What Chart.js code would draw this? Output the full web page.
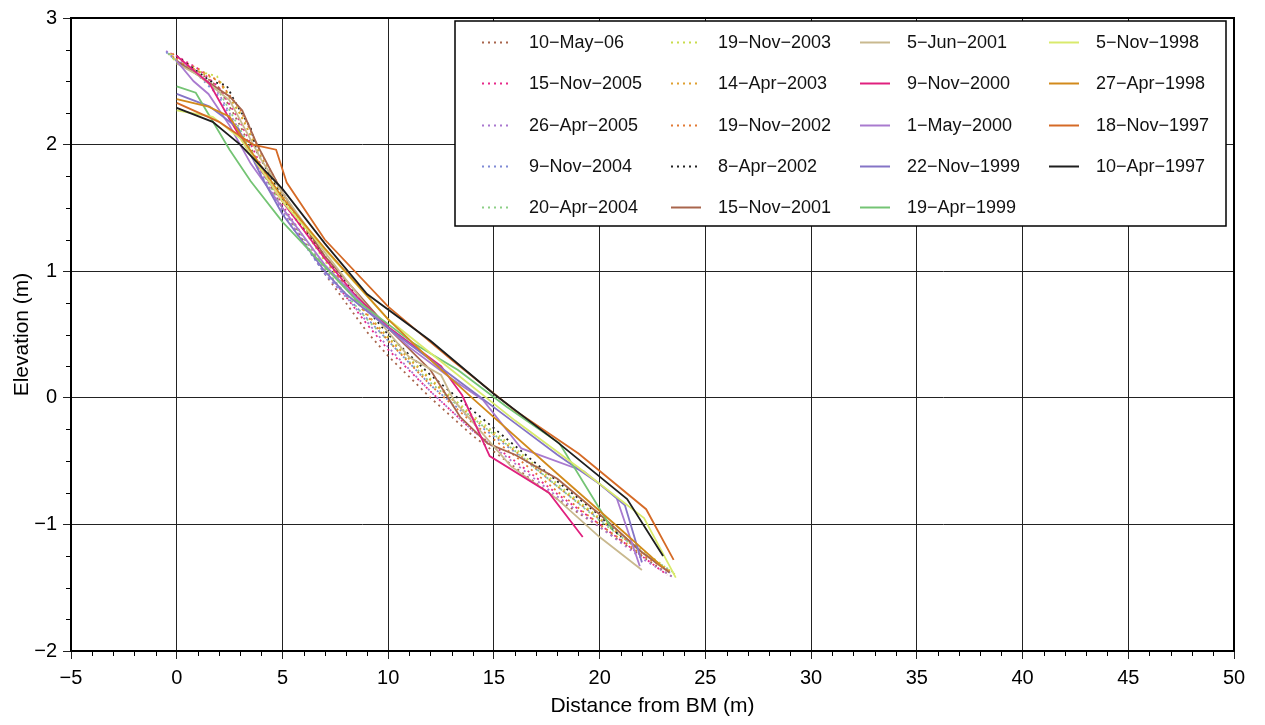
<!DOCTYPE html>
<html>
<head>
<meta charset="utf-8">
<script src="https://cdn.jsdelivr.net/npm/chart.js@4.4.0/dist/chart.umd.min.js"></script>
<style>
html, body { margin: 0; padding: 0; background: #fff; }
#wrap { width: 1265px; height: 725px; }
</style>
</head>
<body>
<div id="wrap"><canvas id="mycanvas" width="1265" height="725"></canvas></div>
<script>
// survey dates (legend order) and colours
var dates = ['10\u2212May\u221206', '15\u2212Nov\u22122005', '26\u2212Apr\u22122005', '9\u2212Nov\u22122004', '20\u2212Apr\u22122004',
             '19\u2212Nov\u22122003', '14\u2212Apr\u22122003', '19\u2212Nov\u22122002', '8\u2212Apr\u22122002', '15\u2212Nov\u22122001',
             '5\u2212Jun\u22122001', '9\u2212Nov\u22122000', '1\u2212May\u22122000', '22\u2212Nov\u22121999', '19\u2212Apr\u22121999',
             '5\u2212Nov\u22121998', '27\u2212Apr\u22121998', '18\u2212Nov\u22121997', '10\u2212Apr\u22121997'];
var colors = ['#a8654c', '#e7298a', '#a977cf', '#7f8ad6', '#8ccf86',
              '#c9dc4c', '#e0a030', '#e27a34', '#222222', '#a8654c',
              '#c9b98f', '#e0207e', '#a97acf', '#8574c6', '#74c474',
              '#d9ea6c', '#d28a1c', '#d56a26', '#1e1e1e'];
var dotted = [true, true, true, true, true, true, true, true, true, false,
              false, false, false, false, false, false, false, false, false];

// profiles: [distance from BM (m), elevation (m)]
var p10May06 = [[-0.4,2.72],[0,2.66],[1,2.58],[2,2.45],[3,2.15],[4,1.8],[5,1.5],[7,0.98],[9,0.52],[10,0.33],[12,0.0],[14,-0.3],[16,-0.55],[18,-0.8],[20,-1.02],[22,-1.25],[23.4,-1.41]];
var p15Nov05 = [[-0.3,2.72],[0,2.7],[1,2.6],[2,2.45],[3,2.18],[4,1.83],[5,1.52],[7,1.02],[9,0.58],[10,0.38],[12,0.05],[14,-0.26],[16,-0.5],[18,-0.76],[20,-1.0],[22,-1.25],[23.2,-1.4]];
var p26Apr05 = [[-0.5,2.74],[0,2.67],[1,2.56],[2,2.4],[3,2.1],[4,1.78],[5,1.48],[7,0.98],[8.2,0.76],[10,0.4],[12,0.05],[14,-0.26],[16,-0.52],[18,-0.78],[20,-1.02],[22,-1.27],[23.5,-1.42]];
var p9Nov04 = [[-0.5,2.73],[0,2.66],[1,2.55],[2,2.38],[3,2.08],[4,1.76],[5,1.46],[7,0.98],[8.2,0.77],[10,0.45],[12,0.1],[14,-0.18],[16,-0.43],[18,-0.7],[20,-0.96],[22,-1.22],[23.4,-1.39]];
var p20Apr04 = [[-0.4,2.72],[0,2.65],[1,2.55],[2,2.42],[3,2.12],[4,1.8],[5,1.5],[7,1.02],[9,0.62],[10,0.45],[12,0.12],[14,-0.16],[16,-0.42],[18,-0.7],[20,-0.97],[22,-1.22],[23.5,-1.38]];
var p19Nov03 = [[-0.3,2.72],[0,2.64],[1,2.58],[1.9,2.54],[3,2.25],[4,1.9],[5,1.58],[7,1.08],[9,0.66],[10,0.48],[12,0.15],[14,-0.14],[16,-0.4],[18,-0.68],[20,-0.95],[22,-1.2],[23.6,-1.4]];
var p14Apr03 = [[-0.2,2.7],[0,2.66],[0.9,2.59],[2,2.5],[3,2.24],[4,1.9],[5,1.6],[7,1.1],[9,0.66],[10,0.47],[12,0.14],[14,-0.16],[16,-0.42],[18,-0.7],[20,-0.96],[22,-1.22],[23.4,-1.38]];
var p19Nov02 = [[-0.2,2.72],[0,2.68],[1,2.6],[2,2.5],[3,2.28],[4,1.93],[5,1.62],[7,1.1],[9,0.65],[10,0.45],[12,0.1],[14,-0.2],[16,-0.46],[18,-0.74],[20,-1.0],[22,-1.24],[23.3,-1.37]];
var p8Apr02 = [[0,2.7],[1.6,2.5],[2.35,2.47],[2.75,2.34],[3.5,2.13],[3.8,1.94],[5.4,1.46],[7,1.12],[9,0.7],[10,0.5],[12,0.18],[14,-0.1],[16,-0.38],[18,-0.66],[20,-0.93],[21,-1.1]];
var p15Nov01 = [[0,2.66],[1,2.55],[2.5,2.38],[3.1,2.27],[3.8,2.0],[5,1.62],[7,1.12],[10,0.55],[12,0.22],[13.4,-0.15],[14.7,-0.36],[16,-0.45],[18,-0.64],[20,-0.92],[22,-1.22],[23.3,-1.38]];
var p5Jun01 = [[0,2.64],[1,2.55],[2.5,2.35],[3.3,2.1],[4,1.88],[5,1.62],[7,1.15],[9,0.72],[11,0.32],[12.5,0.18],[13.1,-0.02],[15.8,-0.54],[18,-0.8],[20,-1.1],[22,-1.36]];
var p9Nov00 = [[0,2.7],[1.56,2.48],[2.5,2.2],[3.5,1.92],[5,1.55],[7,1.1],[8.5,0.8],[10,0.56],[12.5,0.25],[13.5,0.02],[14.8,-0.46],[17.6,-0.75],[19.2,-1.1]];
var p1May00 = [[0,2.66],[0.8,2.5],[1.5,2.4],[2.5,2.15],[3.5,1.85],[5,1.5],[7,1.05],[9,0.7],[11,0.4],[13,0.15],[14.5,-0.02],[16.3,-0.4],[19.25,-0.58],[20.8,-0.79],[21.9,-1.33]];
var p22Nov99 = [[0,2.4],[1.56,2.3],[2.9,2.13],[4,1.75],[5,1.45],[7,1.0],[8,0.82],[10,0.55],[12,0.3],[14,0.05],[16,-0.2],[18,-0.45],[20,-0.68],[21.2,-0.85],[22,-1.3]];
var p19Apr99 = [[0,2.46],[0.9,2.41],[2.5,1.96],[3.5,1.71],[5,1.39],[8.5,0.77],[11.2,0.43],[13.3,0.22],[15.6,-0.07],[18.1,-0.36],[20.6,-1.04]];
var p5Nov98 = [[0,2.27],[1.7,2.22],[3,2.05],[5,1.55],[7,1.17],[10,0.62],[13,0.22],[16,-0.18],[19,-0.55],[22.1,-0.95],[23.6,-1.42]];
var p27Apr98 = [[0,2.36],[1.5,2.3],[2.5,2.22],[3.3,2.0],[5,1.58],[7,1.18],[10,0.62],[12,0.3],[14.1,-0.02],[18,-0.6],[21,-1.04],[23,-1.34]];
var p18Nov97 = [[0,2.33],[2,2.18],[3.6,2.0],[4.7,1.96],[5.2,1.7],[7,1.25],[10,0.72],[13,0.3],[16,-0.1],[19,-0.44],[22.2,-0.88],[23.5,-1.28]];
var p10Apr97 = [[0,2.29],[1.7,2.18],[3,2.0],[5,1.65],[7,1.22],[9,0.82],[12,0.45],[15,0.03],[18,-0.35],[21.3,-0.8],[23,-1.25]];

var profiles = [p10May06, p15Nov05, p26Apr05, p9Nov04, p20Apr04, p19Nov03, p14Apr03, p19Nov02, p8Apr02, p15Nov01,
                p5Jun01, p9Nov00, p1May00, p22Nov99, p19Apr99, p5Nov98, p27Apr98, p18Nov97, p10Apr97];

var FONT = 'Liberation Sans, Arial, Helvetica, sans-serif';

function minus(v) { return String(v).replace('-', '\u2212'); }

var datasets = [];
for (var i = 0; i < profiles.length; i++) {
    datasets.push({
        label: dates[i],
        data: profiles[i].map(function(p){ return {x: p[0], y: p[1]}; }),
        borderColor: colors[i],
        borderWidth: 1.8,
        borderDash: dotted[i] ? [2, 4] : [],
        pointRadius: 0,
        showLine: true,
        fill: false,
        tension: 0,
        order: profiles.length - i
    });
}

// minor ticks, plot frame and the boxed legend
var extras = {
    id: 'extras',
    afterDraw: function(chart) {
        var ctx = chart.ctx, a = chart.chartArea;
        var xs = chart.scales.x, ys = chart.scales.y;
        ctx.save();
        ctx.strokeStyle = '#000';
        ctx.lineWidth = 1;
        ctx.beginPath();
        for (var v = -5; v <= 50; v++) {
            if (v % 5 === 0) continue;
            var px = Math.round(xs.getPixelForValue(v)) + 0.5;
            ctx.moveTo(px, a.bottom);
            ctx.lineTo(px, a.bottom + 5);
        }
        for (var w = -2; w <= 3; w += 0.25) {
            if (w % 1 === 0) continue;
            var py = Math.round(ys.getPixelForValue(w)) + 0.5;
            ctx.moveTo(a.left - 5, py);
            ctx.lineTo(a.left, py);
        }
        ctx.stroke();
        ctx.lineWidth = 2;
        ctx.strokeRect(a.left, a.top, a.right - a.left, a.bottom - a.top);

        // legend box
        var bx = 455, by = 21, bw = 771, bh = 205;
        ctx.fillStyle = '#fff';
        ctx.fillRect(bx, by, bw, bh);
        ctx.lineWidth = 1.5;
        ctx.strokeStyle = '#000';
        ctx.strokeRect(bx, by, bw, bh);
        var colX = [482, 671, 860, 1049];
        ctx.font = '18px ' + FONT;
        ctx.textBaseline = 'middle';
        ctx.textAlign = 'left';
        for (var k = 0; k < dates.length; k++) {
            var c = Math.floor(k / 5), r = k % 5;
            var lx = colX[c], ly = Math.round(42 + r * 41.3) + 0.5;
            ctx.beginPath();
            ctx.strokeStyle = colors[k];
            ctx.lineWidth = 2;
            ctx.setLineDash(dotted[k] ? [2, 4] : []);
            ctx.moveTo(lx, ly);
            ctx.lineTo(lx + 30, ly);
            ctx.stroke();
            ctx.setLineDash([]);
            ctx.fillStyle = '#111';
            ctx.fillText(dates[k], lx + 47, ly + 1);
        }
        ctx.restore();
    }
};

var ctx = document.getElementById('mycanvas');
var chart = new Chart(ctx, {
    type: 'scatter',
    data: { datasets: datasets },
    options: {
        responsive: false,
        devicePixelRatio: 1,
        animation: false,
        events: [],
        layout: { padding: { top: 17, right: 31, left: 0, bottom: 0 } },
        plugins: { legend: { display: false }, tooltip: { enabled: false } },
        scales: {
            x: {
                type: 'linear', min: -5, max: 50,
                afterFit: function(s){ s.height = 74; },
                ticks: { stepSize: 5, color: '#000', padding: 7, maxRotation: 0,
                         font: { family: FONT, size: 20 }, callback: minus },
                grid: { color: '#222', lineWidth: 1, tickLength: 8 },
                border: { color: '#000', width: 2 },
                title: { display: true, text: 'Distance from BM (m)', color: '#000',
                         font: { family: FONT, size: 21 }, padding: { top: 0, bottom: 6 } }
            },
            y: {
                type: 'linear', min: -2, max: 3,
                afterFit: function(s){ s.width = 71; },
                ticks: { stepSize: 1, color: '#000', padding: 6,
                         font: { family: FONT, size: 20 }, callback: minus },
                grid: { color: '#222', lineWidth: 1, tickLength: 8 },
                border: { color: '#000', width: 2 },
                title: { display: true, text: 'Elevation (m)', color: '#000',
                         font: { family: FONT, size: 21 }, padding: { top: 10, bottom: 0 } }
            }
        }
    },
    plugins: [extras]
});
</script>
</body>
</html>
